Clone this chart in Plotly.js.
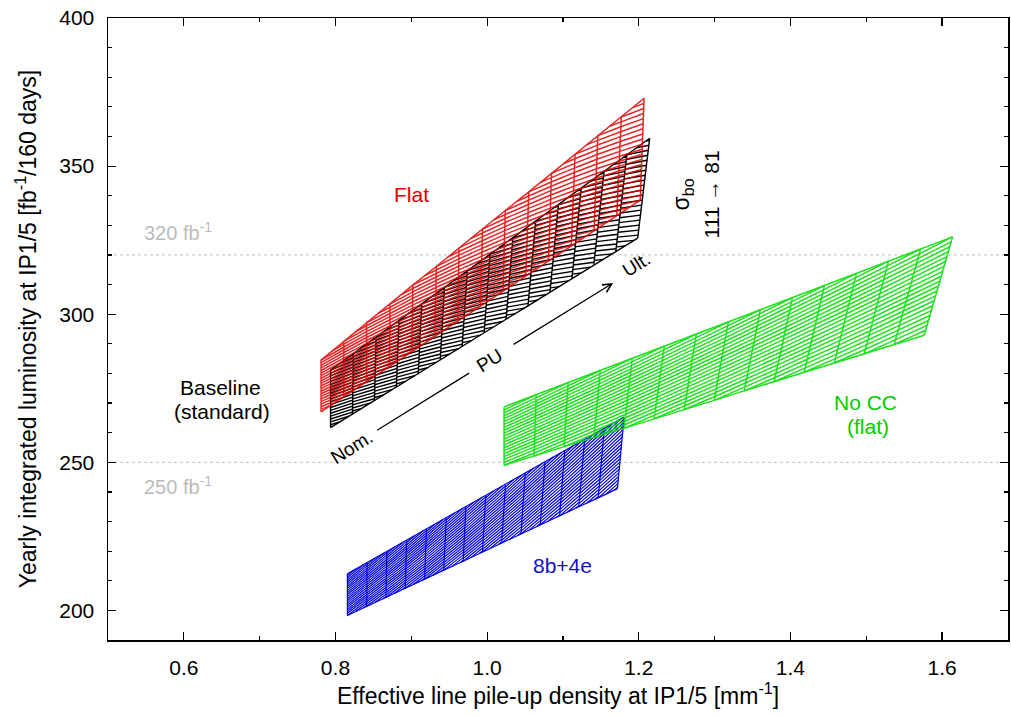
<!DOCTYPE html>
<html>
<head>
<meta charset="utf-8">
<script src="https://cdn.plot.ly/plotly-3.0.1.min.js"></script>
<style>html,body{margin:0;padding:0;background:#fff;}#chart{width:1011px;height:716px;}</style>
</head>
<body>
<div id="chart"></div>
<script>
// sigma_bo scan levels (mb), 111 -> 81 (rows of each mesh)
const sigmaLevels = [111,109.5,108,106.5,105,103.5,102,100.5,99,97.5,96,94.5,93,91.5,90,88.5,87,85.5,84,82.5,81];

// Each mesh: one line per pile-up step, from sigma=111 (bottom) to sigma=81 (top)
// Flat optics (red)
const flatBottomX = [0.781,0.811,0.841,0.871,0.901,0.931,0.961,0.991,1.021,1.051,1.081,1.111,1.141,1.171,1.202];
const flatBottomY = [267.0,272.1,277.2,282.3,287.4,292.5,297.6,302.7,307.9,313.0,318.1,323.2,328.3,333.4,338.5];
const flatTopX    = [0.781,0.811,0.841,0.872,0.902,0.933,0.963,0.994,1.024,1.055,1.085,1.116,1.146,1.177,1.207];
const flatTopY    = [284.5,290.8,297.1,303.4,309.8,316.1,322.4,328.7,335.0,341.3,347.6,354.0,360.3,366.6,372.9];

// Baseline (standard), black
const baseBottomX = [0.7935,0.8224,0.8514,0.8803,0.9092,0.9382,0.9671,0.9961,1.0250,1.0539,1.0829,1.1118,1.1407,1.1697,1.1986];
const baseBottomY = [261.7,266.3,270.8,275.4,280.0,284.6,289.1,293.7,298.3,302.8,307.4,312.0,316.6,321.1,325.7];
const baseTopX    = [0.7935,0.8236,0.8536,0.8837,0.9138,0.9438,0.9739,1.0039,1.0340,1.0641,1.0941,1.1242,1.1543,1.1843,1.2144];
const baseTopY    = [281.1,286.7,292.3,297.9,303.5,309.1,314.7,320.3,325.8,331.4,337.0,342.6,348.2,353.8,359.4];

// No CC (flat), green
const nocBottomX = [1.0224,1.0620,1.1016,1.1411,1.1807,1.2203,1.2599,1.2995,1.3390,1.3786,1.4182,1.4578,1.4973,1.5369,1.5765];
const nocBottomY = [249.0,252.1,255.3,258.4,261.5,264.7,267.8,270.9,274.1,277.2,280.4,283.5,286.6,289.8,292.9];
const nocTopX    = [1.0224,1.0647,1.1069,1.1492,1.1914,1.2337,1.2759,1.3182,1.3604,1.4027,1.4449,1.4872,1.5294,1.5717,1.6139];
const nocTopY    = [268.7,272.8,276.9,281.0,285.1,289.2,293.3,297.4,301.5,305.6,309.7,313.8,317.9,322.0,326.1];

// 8b+4e, blue
const b84BottomX = [0.8157,0.8411,0.8666,0.8920,0.9175,0.9429,0.9684,0.9938,1.0192,1.0447,1.0701,1.0956,1.1210,1.1465,1.1719];
const b84BottomY = [198.3,201.4,204.4,207.5,210.5,213.6,216.6,219.7,222.8,225.8,228.9,231.9,235.0,238.0,241.1];
const b84TopX    = [0.8157,0.8418,0.8678,0.8939,0.9200,0.9461,0.9721,0.9982,1.0243,1.0503,1.0764,1.1025,1.1286,1.1546,1.1807];
const b84TopY    = [212.4,216.2,220.0,223.7,227.5,231.3,235.1,238.9,242.6,246.4,250.2,254.0,257.7,261.5,265.3];

const xTickVals = [0.6,0.8,1.0,1.2,1.4,1.6];
const xTickText = ['0.6','0.8','1.0','1.2','1.4','1.6'];
const yTickVals = [200,250,300,350,400];
const targetLines = [320, 250];

function mesh(xb, yb, xt, yt, shift) {
  const nRows = sigmaLevels.length - 1;
  const xs = [], ys = [];
  const n = xb.length;
  for (let i = 0; i < n; i++) { xs.push(xb[i], xt[i], null); ys.push(yb[i], yt[i], null); }
  for (let i = 0; i < n; i++) { xs.push(xb[i]); ys.push(yb[i]); } xs.push(null); ys.push(null);
  for (let i = 0; i < n; i++) { xs.push(xt[i]); ys.push(yt[i]); } xs.push(null); ys.push(null);
  const pt = (i, s, g) => {
    const lx = xb[i] + (xt[i] - xb[i]) * g, ly = yb[i] + (yt[i] - yb[i]) * g;
    const rx = xb[i+1] + (xt[i+1] - xb[i+1]) * g, ry = yb[i+1] + (yt[i+1] - yb[i+1]) * g;
    return [lx + (rx - lx) * s, ly + (ry - ly) * s];
  };
  const extra = Math.ceil(Math.abs(shift) * nRows);
  const kmin = shift > 0 ? -extra : 1;
  const kmax = shift < 0 ? nRows + extra : nRows - 1;
  for (let i = 0; i < n - 1; i++) {
    for (let k = kmin; k <= kmax; k++) {
      const f = k / nRows;
      let s0 = 0, s1 = 1;
      if (shift > 0) { s0 = Math.max(0, -f / shift); s1 = Math.min(1, (1 - f) / shift); }
      else if (shift < 0) { s0 = Math.max(0, (1 - f) / shift); s1 = Math.min(1, -f / shift); }
      if (s1 - s0 < 1e-3) continue;
      const p0 = pt(i, s0, f + s0 * shift), p1 = pt(i, s1, f + s1 * shift);
      xs.push(p0[0], p1[0], null); ys.push(p0[1], p1[1], null);
    }
  }
  return {x: xs, y: ys};
}

const FONT = 'Liberation Sans, Arial, Helvetica, sans-serif';
function band(xb, yb, xt, yt, shift, color, opacity, width, name) {
  const m = mesh(xb, yb, xt, yt, shift);
  return {type: 'scatter', mode: 'lines', x: m.x, y: m.y, name: name,
    line: {color: color, width: width}, opacity: opacity, hoverinfo: 'skip', showlegend: false};
}

const traces = [
  band(baseBottomX, baseBottomY, baseTopX, baseTopY, -0.12, '#000000', 1, 1.4, 'Baseline'),
  band(flatBottomX, flatBottomY, flatTopX, flatTopY, -0.1, '#e00000', 0.85, 1.5, 'Flat'),
  band(b84BottomX, b84BottomY, b84TopX, b84TopY, 0.12, '#0000dd', 1, 1.2, '8b+4e'),
  band(nocBottomX, nocBottomY, nocTopX, nocTopY, 0.05, '#00dd00', 0.88, 1.5, 'No CC')
];

const shapes = targetLines.map(v => ({type: 'line', xref: 'paper', x0: 0, x1: 1, yref: 'y', y0: v, y1: v,
  line: {color: '#cccccc', width: 1.3, dash: 'dot'}, layer: 'below'}));
shapes.push({type: 'line', xref: 'x', yref: 'y', x0: 0.8549, y0: 260.8, x1: 0.9763, y1: 280.1, line: {color: '#000', width: 1.2}});

const ann = (text, x, y, color, size, angle) => ({text: text, x: x, y: y, xref: 'x', yref: 'y', showarrow: false,
  font: {family: FONT, size: size, color: color}, textangle: angle || 0, xanchor: 'center', yanchor: 'middle'});

const annotations = [
  ann('Flat', 0.900, 340.5, '#e00000', 21),
  ann('Baseline', 0.648, 275.3, '#000', 21),
  ann('(standard)', 0.651, 267.2, '#000', 21),
  ann('No CC', 1.4990, 270.3, '#00cc00', 21),
  ann('(flat)', 1.5030, 262.2, '#00cc00', 21),
  ann('8b+4e', 1.099, 215.3, '#1010cc', 21),
  ann('320 fb<sup>-1</sup>', 0.5920, 328.0, '#bbbbbb', 20),
  ann('250 fb<sup>-1</sup>', 0.5920, 242.0, '#bbbbbb', 20),
  ann('Nom.', 0.8206, 255.1, '#000', 19, -32),
  ann('PU', 1.0026, 284.5, '#000', 19, -32),
  ann('Ult.', 1.1966, 316.9, '#000', 19, -32),
  ann('σ<sub>bo</sub>', 1.2573, 340.5, '#000', 23, -90),
  ann('111 → 81', 1.2955, 340.5, '#000', 21, -90),
  {x: 1.1662, y: 310.5, ax: 1.033, ay: 289.5, xref: 'x', yref: 'y', axref: 'x', ayref: 'y', text: '',
   showarrow: true, arrowhead: 5, arrowsize: 1.4, arrowwidth: 1.2, arrowcolor: '#000'}
];

const layout = {
  width: 1011, height: 716,
  margin: {l: 108, r: 3, t: 18, b: 76},
  paper_bgcolor: '#fff', plot_bgcolor: '#fff',
  font: {family: FONT, size: 21, color: '#000'},
  showlegend: false,
  xaxis: {range: [0.5, 1.687], tickvals: xTickVals, ticktext: xTickText, ticks: 'inside', ticklen: 8, tickwidth: 1.2,
    tickcolor: '#000', showline: true, linecolor: '#000', linewidth: 1.5, mirror: 'ticks', showgrid: false, zeroline: false,
    minor: {ticks: 'inside', ticklen: 4, tickwidth: 1.2, tickcolor: '#000', dtick: 0.1, tick0: 0.5, showgrid: false},
    tickfont: {family: FONT, size: 21}, ticklabelstandoff: 8,
    title: {text: 'Effective line pile-up density at IP1/5 [mm<sup>-1</sup>]', font: {family: FONT, size: 23}, standoff: 10}},
  yaxis: {range: [190, 400], tickvals: yTickVals, ticks: 'inside', ticklen: 8, tickwidth: 1.2,
    tickcolor: '#000', showline: true, linecolor: '#000', linewidth: 1.5, mirror: 'ticks', showgrid: false, zeroline: false,
    minor: {ticks: 'inside', ticklen: 4, tickwidth: 1.2, tickcolor: '#000', dtick: 10, tick0: 200, showgrid: false},
    tickfont: {family: FONT, size: 21}, ticklabelstandoff: 8,
    title: {text: 'Yearly integrated luminosity at IP1/5 [fb<sup>-1</sup>/160 days]', font: {family: FONT, size: 23}, standoff: 16}},
  shapes: shapes,
  annotations: annotations
};

Plotly.newPlot('chart', traces, layout, {displayModeBar: false, staticPlot: true});
</script>
</body>
</html>
